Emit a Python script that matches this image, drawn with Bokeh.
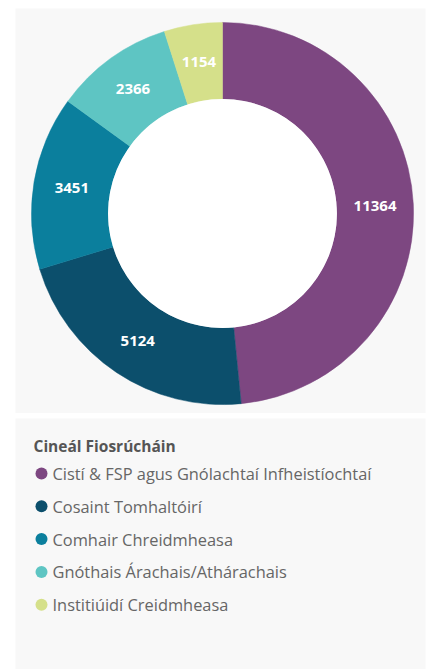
import numpy as np
from bokeh.plotting import figure
from bokeh.layouts import column
from bokeh.models import Range1d, ColumnDataSource
from bokeh.core.properties import value
from bokeh.embed import file_html
from bokeh.resources import INLINE

# ---- data ----
categories = [
    "Cistí & FSP agus Gnólachtaí Infheistíochtaí",
    "Cosaint Tomhaltóirí",
    "Comhair Chreidmheasa",
    "Gnóthais Árachais/Athárachais",
    "Institiúidí Creidmheasa",
]
counts = [11364, 5124, 3451, 2366, 1154]
colors = ["#7D4781", "#0C4F6C", "#0B7F9D", "#5EC5C3", "#D5E08A"]
legend_title = "Cineál Fiosrúcháin"

PANEL = "#F8F8F8"
FONT = "Open Sans"

# ---- donut ----
vals = np.array(counts, dtype=float)
frac = vals / vals.sum()
cum_end = np.cumsum(frac)
cum_start = cum_end - frac
start = np.pi / 2 - 2 * np.pi * cum_start
end = np.pi / 2 - 2 * np.pi * cum_end
mid = (start + end) / 2

R_OUT, R_IN = 192, 115
r_mid = (R_OUT + R_IN) / 2

src = ColumnDataSource(dict(
    start=start, end=end, color=colors, cat=categories,
    lx=r_mid * np.cos(mid), ly=r_mid * np.sin(mid),
    label=[str(c) for c in counts],
))

p1 = figure(width=430, height=413, output_backend="svg", toolbar_location=None,
            x_range=Range1d(-208, 204), y_range=Range1d(-200, 205),
            min_border_left=13, min_border_right=5, min_border_top=8, min_border_bottom=0)
p1.background_fill_color = PANEL
p1.border_fill_color = "white"
p1.outline_line_color = None
p1.axis.visible = False
p1.grid.visible = False

p1.annular_wedge(x=0, y=0, inner_radius=R_IN, outer_radius=R_OUT,
                 start_angle="start", end_angle="end", direction="clock",
                 fill_color="color", line_color="color", line_width=0.5, source=src)
p1.circle(x=0, y=0, radius=R_IN, fill_color="white", line_color=None)
p1.text(x="lx", y="ly", text="label", source=src, text_color="white",
        text_font=value(FONT), text_font_style="bold", text_font_size="15px",
        text_align="center", text_baseline="middle")

# ---- legend panel ----
n = len(categories)
row = np.arange(n)
leg = ColumnDataSource(dict(
    y=55 + 32.8 * row, cat=categories, color=colors,
))

p2 = figure(width=430, height=256, output_backend="svg", toolbar_location=None,
            x_range=Range1d(0, 410), y_range=Range1d(251, 0),
            min_border_left=15, min_border_right=5, min_border_top=5, min_border_bottom=0)
p2.background_fill_color = PANEL
p2.border_fill_color = "white"
p2.outline_line_color = None
p2.axis.visible = False
p2.grid.visible = False

p2.text(x=[18], y=[27], text=[legend_title], text_color="#555555",
        text_font=value(FONT), text_font_style="bold", text_font_size="15.5px",
        text_baseline="middle")
p2.scatter(x=26, y="y", source=leg, size=12, marker="circle",
           fill_color="color", line_color=None)
p2.text(x=37, y="y", text="cat", source=leg, text_color="#666666",
        text_font=value(FONT), text_font_size="16.4px", text_baseline="middle")

layout = column(p1, p2, spacing=0)
open("out.html", "w").write(file_html(layout, INLINE))
